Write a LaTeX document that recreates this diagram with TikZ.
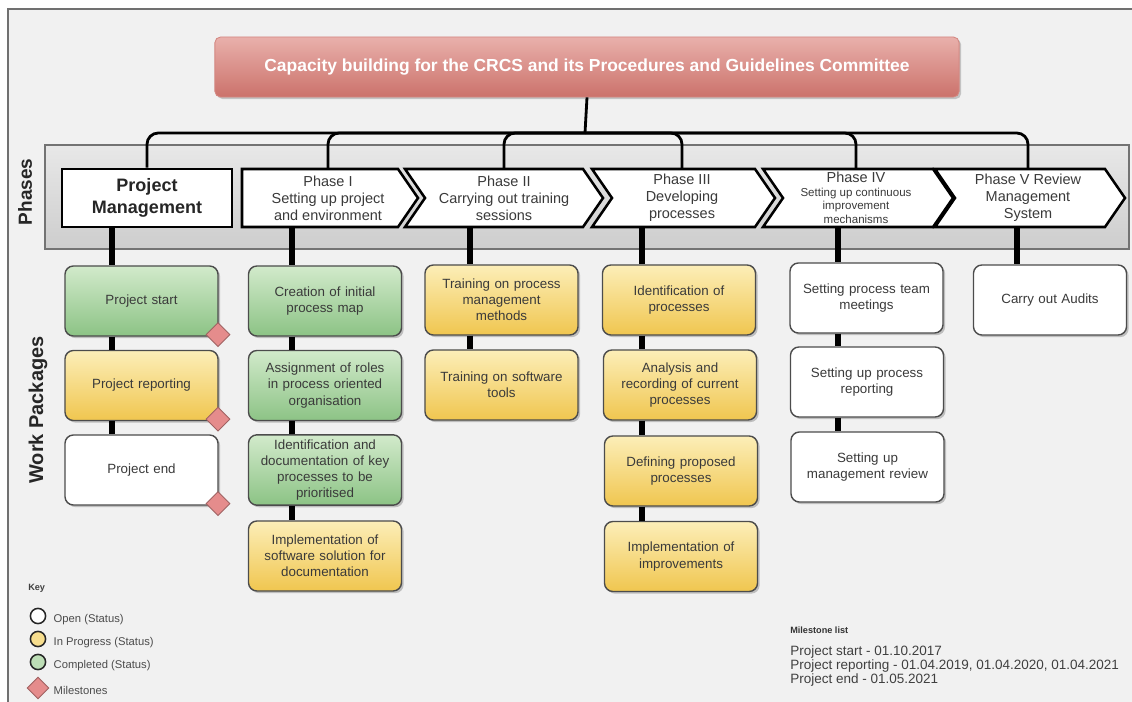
\documentclass[tikz,border=0pt]{standalone}
\usepackage{fontspec}
\setmainfont{Liberation Sans}
\usetikzlibrary{shapes.geometric}
\usetikzlibrary{shadows}
\usetikzlibrary{positioning}
\usetikzlibrary{calc}

\definecolor{bgback}{HTML}{F1F1F1}
\definecolor{frameline}{HTML}{707070}
\definecolor{titletop}{HTML}{E9B0AB}
\definecolor{titlebot}{HTML}{CB726B}
\definecolor{bandtop}{HTML}{E8E8E8}
\definecolor{bandbot}{HTML}{CDCDCD}
\definecolor{greentop}{HTML}{D2EACB}
\definecolor{greenbot}{HTML}{8CC385}
\definecolor{yellowtop}{HTML}{FCEEB8}
\definecolor{yellowbot}{HTML}{F0C64F}
\definecolor{milestone}{HTML}{E58C8C}
\definecolor{boxtext}{HTML}{3A3A3A}

\newcommand\phbig{\fontsize{10.3}{12}\selectfont}

\tikzset{
  wpbox/.style={draw=black!70, line width=1pt, rounded corners=6pt,
    minimum width=3.825cm, minimum height=1.75cm, text width=3.5cm,
    align=center, text=boxtext, font=\fontsize{9.5}{11.5}\selectfont,
    drop shadow={shadow xshift=1.5pt, shadow yshift=-1.5pt, opacity=0.45}},
  wpopen/.style={wpbox, fill=white},
  wpprog/.style={wpbox, top color=yellowtop, bottom color=yellowbot},
  wpdone/.style={wpbox, top color=greentop, bottom color=greenbot},
  chev/.style={draw=black, line width=1.8pt, fill=white, line join=miter},
  phtext/.style={minimum height=1.45cm, inner sep=0pt, align=center, text=boxtext,
    font=\fontsize{10.3}{12}\selectfont},
  bus/.style={line width=2pt, rounded corners=8pt},
  spine/.style={line width=4.2pt},
  mstone/.style={diamond, draw=milestone!70!black, line width=0.6pt, fill=milestone,
    minimum size=0.6cm, inner sep=0pt},
  keydot/.style={circle, draw=black!85, line width=1.1pt, minimum size=0.38cm, inner sep=0pt},
  keytext/.style={anchor=west, text=black!70, font=\fontsize{8}{9}\selectfont, inner sep=1pt}
}

\begin{document}
\begin{tikzpicture}[x=0.025cm, y=-0.025cm]
\useasboundingbox (0,0) rectangle (1132,702);

%page
\fill[white] (0,0) rectangle (1132,702);
\fill[bgback] (8,9) rectangle (1132,702);
\draw[frameline, line width=1.5pt] (8,702) -- (8,9) -- (1132,9);

%title
\node[draw=titlebot!85, line width=0.6pt, rounded corners=4pt, top color=titletop, bottom color=titlebot,
  minimum width=18.6cm, minimum height=1.5cm, text=white,
  font=\bfseries\fontsize{12.4}{14}\selectfont,
  drop shadow={shadow xshift=1.5pt, shadow yshift=-1.5pt, opacity=0.4}] (title) at (587,67)
  {Capacity building for the CRCS and its Procedures and Guidelines Committee};

%phases band
\draw[top color=bandtop, bottom color=bandbot, draw=black!55, line width=0.8pt] (45,145) rectangle (1129,249);
\node[rotate=90, font=\bfseries\fontsize{13.5}{15}\selectfont, text=black!85] (phlabel) at (25,192) {Phases};
\node[rotate=90, font=\bfseries\fontsize{14.2}{16}\selectfont, text=black!85] (wplabel) at (38,410) {Work Packages};

%phase chevrons
\foreach \xl/\xr/\nd in {242/418/0, 405/603/20, 592/775/20, 763/953/20, 935/1125/20} {
  \draw[chev] (\xl,169) -- ({\xr-20},169) -- (\xr,198) -- ({\xr-20},227) -- (\xl,227) -- ({\xl+\nd},198) -- cycle;
}

%phase nodes
\node[draw=black, line width=1.8pt, fill=white, minimum width=4.25cm, minimum height=1.45cm,
  align=center, text=black!85, font=\bfseries\fontsize{12.8}{16}\selectfont] (pm) at (147,198) {Project\\Management};
\node[phtext] (ph1) at (328,198) {Phase I\\Setting up project\\and environment};
\node[phtext] (ph2) at (504,198) {Phase II\\Carrying out training\\sessions};
\node[phtext] (ph3) at (682,198) {Phase III\\Developing\\processes};
\node[phtext, font=\fontsize{8.2}{9.6}\selectfont] (ph4) at (856,198) {{\phbig Phase IV}\\Setting up continuous\\improvement\\mechanisms};
\node[phtext] (ph5) at (1028,198) {Phase V Review\\Management\\System};

%bus from title
\coordinate (busy) at (585,133);
\draw[bus] (pm.north) |- (busy) -| (ph5.north);
\foreach \p in {ph1,ph2,ph3,ph4} {
  \draw[bus] (\p.north) |- (busy);
}
\draw[line width=2pt] (title.south) -- (busy);

%work packages
\node[wpdone] (wpm1) at (141.5,301) {Project start};
\node[wpprog] (wpm2) at (141.5,385.5) {Project reporting};
\node[wpopen] (wpm3) at (141.5,470) {Project end};

\node[wpdone] (wpa1) at (325,301) {Creation of initial\\process map};
\node[wpdone] (wpa2) at (325,385.5) {Assignment of roles\\in process oriented\\organisation};
\node[wpdone] (wpa3) at (325,470) {Identification and\\documentation of key\\processes to be\\prioritised};
\node[wpprog] (wpa4) at (325,556) {Implementation of\\software solution for\\documentation};

\node[wpprog] (wpb1) at (501.5,300) {Training on process\\management\\methods};
\node[wpprog] (wpb2) at (501.5,385) {Training on software\\tools};

\node[wpprog] (wpc1) at (679,300) {Identification of\\processes};
\node[wpprog] (wpc2) at (680,385) {Analysis and\\recording of current\\processes};
\node[wpprog] (wpc3) at (681,471) {Defining proposed\\processes};
\node[wpprog] (wpc4) at (681,556.5) {Implementation of\\improvements};

\node[wpopen] (wpd1) at (866.5,298) {Setting process team\\meetings};
\node[wpopen] (wpd2) at (867,382) {Setting up process\\reporting};
\node[wpopen] (wpd3) at (867.5,467) {Setting up\\management review};

\node[wpopen] (wpe1) at (1050,300) {Carry out Audits};

%milestones
\foreach \b in {wpm1,wpm2,wpm3} {
  \node[mstone] (ms-\b) at ([xshift=-0.5pt, yshift=1.5pt]\b.south east) {};
}

%spines
\coordinate (xpm) at (112,0);
\coordinate (xa) at (292,0);
\coordinate (xb) at (470,0);
\coordinate (xc) at (642,0);
\coordinate (xd) at (838,0);
\coordinate (xe) at (1017,0);
\foreach \a/\b/\s in {pm/wpm1/xpm, wpm1/wpm2/xpm, wpm2/wpm3/xpm,
    ph1/wpa1/xa, wpa1/wpa2/xa, wpa2/wpa3/xa, wpa3/wpa4/xa,
    ph2/wpb1/xb, wpb1/wpb2/xb,
    ph3/wpc1/xc, wpc1/wpc2/xc, wpc2/wpc3/xc, wpc3/wpc4/xc,
    ph4/wpd1/xd, wpd1/wpd2/xd, wpd2/wpd3/xd,
    ph5/wpe1/xe} {
  \draw[spine] (\a.south -| \s) -- (\b.north -| \s);
}

%key
\node[anchor=west, inner sep=0pt, text=black!75, font=\bfseries\fontsize{6.5}{8}\selectfont] (keytitle) at (28,588) {Key};
\node[keydot, fill=white] (kopen) at (38,616) {};
\node[keydot, fill=yellowtop!60!yellowbot] (kprog) at (38,639) {};
\node[keydot, fill=greentop!70!greenbot] (kdone) at (38,662) {};
\node[mstone, minimum size=0.55cm] (kms) at (38,688) {};
\node[keytext] (topen) at (52,620) {Open (Status)};
\node[keytext] (tprog) at (52,643) {In Progress (Status)};
\node[keytext] (tdone) at (52,666) {Completed (Status)};
\node[keytext] (tms) at (52,690) {Milestones};

%milestone list
\node[anchor=west, inner sep=0pt, text=black!80, font=\bfseries\fontsize{6.5}{8}\selectfont] (mltitle) at (790,630) {Milestone list};
\node[anchor=north west, inner sep=0pt, align=left, text=black!75, font=\fontsize{9.6}{10.2}\selectfont] (mllist) at (790,645)
  {Project start - 01.10.2017\\Project reporting - 01.04.2019, 01.04.2020, 01.04.2021\\Project end - 01.05.2021};

\end{tikzpicture}
\end{document}
